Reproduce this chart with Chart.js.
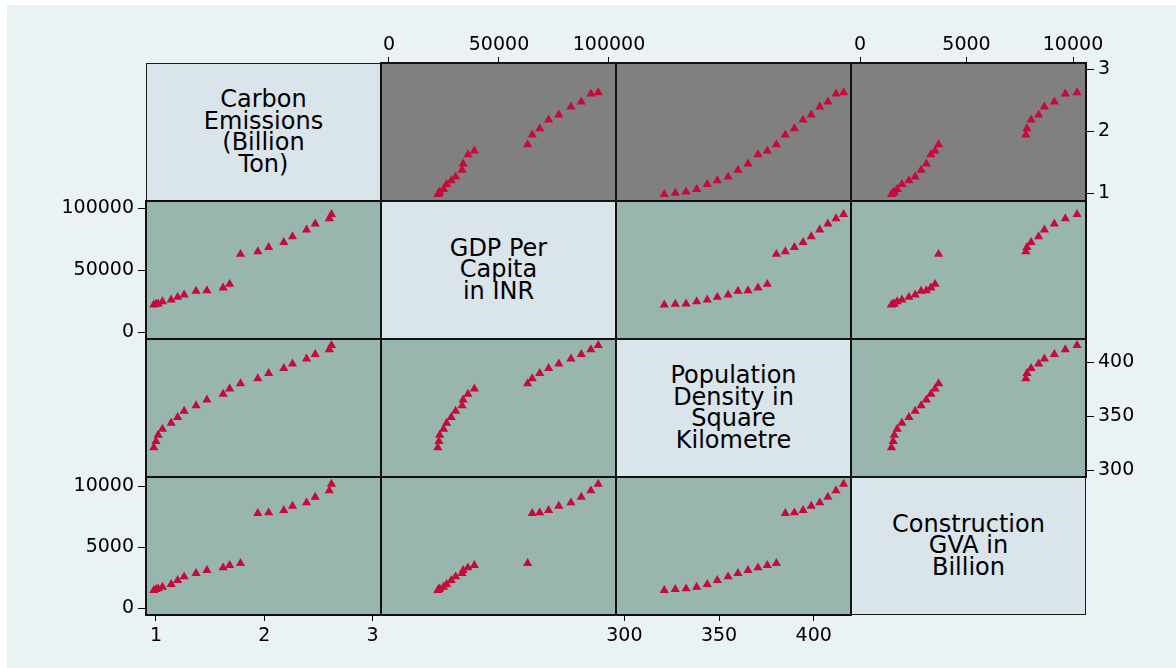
<!DOCTYPE html>
<html><head><meta charset="utf-8">
<script src="https://cdn.jsdelivr.net/npm/chart.js@4.4.1/dist/chart.umd.min.js"></script>
<style>
html,body{margin:0;padding:0;background:#fff;width:1176px;height:668px;overflow:hidden;}
#bg{position:absolute;left:7px;top:5px;right:0;bottom:0;background:#eaf2f3;}
canvas.cv{position:absolute;}
.diag{position:absolute;box-sizing:border-box;border:1px solid #1a1a1a;background:#d9e5ea;display:flex;align-items:center;justify-content:center;text-align:center;font-family:"DejaVu Sans",sans-serif;font-size:24px;line-height:21.5px;color:#000;}
</style></head><body><div id="bg"></div>
<script>
const carbon = [0.98, 1.00, 1.02, 1.06, 1.14, 1.20, 1.26, 1.37, 1.47, 1.62, 1.68, 1.78, 1.94, 2.04, 2.18, 2.26, 2.39, 2.47, 2.60, 2.62];
const gdp    = [22200, 22700, 23000, 24800, 26200, 28300, 30300, 33200, 33700, 35900, 38800, 63000, 65100, 68500, 72550, 77200, 82700, 87400, 91750, 95100];
const pop    = [321.1, 326.9, 332.6, 338.2, 343.8, 349.1, 354.8, 360.0, 365.3, 370.6, 375.5, 380.3, 385.0, 389.8, 394.4, 398.7, 403.2, 407.5, 411.8, 415.8];
const gva    = [1475, 1557, 1607, 1746, 1967, 2295, 2590, 2869, 3115, 3328, 3525, 3689, 7787, 7836, 8033, 8385, 8656, 9123, 9639, 10189];

const carbonTicks = [1, 2, 3];
const gdpTicks    = [0, 50000, 100000];
const popTicks    = [300, 350, 400];
const gvaTicks    = [0, 5000, 10000];

const varLabels = [
  ["Carbon", "Emissions", "(Billion", "Ton)"],
  ["GDP Per", "Capita", "in INR"],
  ["Population", "Density in", "Square", "Kilometre"],
  ["Construction", "GVA in", "Billion"]
];

// ---- layout / style ----
const series = [carbon, gdp, pop, gva];
const ticksArr = [carbonTicks, gdpTicks, popTicks, gvaTicks];
const xRange = [[0.908, 3.077], [-3636, 103182], [295.6, 419.7], [-423, 10610]];
const yRange = [[0.871, 3.097], [-5403, 105887], [293.8, 421.6], [-549, 10762]];
const CX = [146, 381, 616, 851], CY = [63, 201, 339, 477], CW = 235, CH = 138, M = 100;
const GREEN = '#98b5ae', GRAY = '#808080', MARK = '#c60a3c';
const tickFont = {family: 'DejaVu Sans', size: 19};

const cellPlugin = {
  id: 'cell',
  beforeDraw(ch, a, o) {
    const {ctx, chartArea: {left, top, width, height}} = ch;
    ctx.save(); ctx.fillStyle = o.bg; ctx.fillRect(left, top, width, height); ctx.restore();
  },
  afterDraw(ch) {
    const {ctx, chartArea: {left, top, width, height}} = ch;
    ctx.save(); ctx.strokeStyle = '#111'; ctx.lineWidth = 2;
    ctx.strokeRect(left, top, width, height); ctx.restore();
  }
};

for (let r = 0; r < 4; r++) {
  for (let c = 0; c < 4; c++) {
    if (r === c) {
      const d = document.createElement('div');
      d.className = 'diag';
      d.style.left = CX[c] + 'px'; d.style.top = CY[r] + 'px';
      d.style.width = CW + 'px'; d.style.height = CH + 'px';
      d.innerHTML = '<div>' + varLabels[r].join('<br>') + '</div>';
      document.body.appendChild(d);
      continue;
    }
    const cv = document.createElement('canvas');
    cv.className = 'cv';
    cv.width = CW + 2 * M; cv.height = CH + 2 * M;
    cv.style.left = (CX[c] - M) + 'px'; cv.style.top = (CY[r] - M) + 'px';
    cv.style.width = cv.width + 'px'; cv.style.height = cv.height + 'px';
    document.body.appendChild(cv);

    const xPos = c % 2 === 0 ? 'bottom' : 'top';
    const yPos = r % 2 === 0 ? 'right' : 'left';
    const showX = (xPos === 'bottom' && r === 3) || (xPos === 'top' && r === 0);
    const showY = (yPos === 'right' && c === 3) || (yPos === 'left' && c === 0);
    const pts = series[c].map((v, i) => ({x: v, y: series[r][i]}));

    new Chart(cv, {
      type: 'scatter',
      data: {datasets: [{data: pts, pointStyle: 'triangle', pointRadius: 5.3,
        backgroundColor: MARK, borderColor: MARK, borderWidth: 0}]},
      options: {
        responsive: false, animation: false, devicePixelRatio: 1, events: [],
        layout: {padding: {
          top: xPos === 'bottom' ? M : 0, bottom: xPos === 'top' ? M : 0,
          left: yPos === 'right' ? M : 0, right: yPos === 'left' ? M : 0}},
        plugins: {legend: {display: false}, tooltip: {enabled: false},
          cell: {bg: r === 0 ? GRAY : GREEN}},
        scales: {
          x: {type: 'linear', position: xPos, min: xRange[c][0], max: xRange[c][1],
            afterFit(s) { s.height = M; },
            afterBuildTicks(s) { s.ticks = ticksArr[c].map(v => ({value: v})); },
            ticks: {display: showX, font: tickFont, color: '#000', padding: xPos === 'top' ? 1 : 4,
              maxRotation: 0, autoSkip: false, callback: v => String(v)},
            grid: {display: showX, drawOnChartArea: false, drawTicks: true, tickLength: 6, color: '#000'},
            border: {display: false}},
          y: {type: 'linear', position: yPos, min: yRange[r][0], max: yRange[r][1],
            afterFit(s) { s.width = M; },
            afterBuildTicks(s) { s.ticks = ticksArr[r].map(v => ({value: v})); },
            ticks: {display: showY, font: tickFont, color: '#000', padding: 4,
              autoSkip: false, callback: v => String(v)},
            grid: {display: showY, drawOnChartArea: false, drawTicks: true, tickLength: 8, color: '#000'},
            border: {display: false}}
        }
      },
      plugins: [cellPlugin]
    });
  }
}
</script>
</body></html>
